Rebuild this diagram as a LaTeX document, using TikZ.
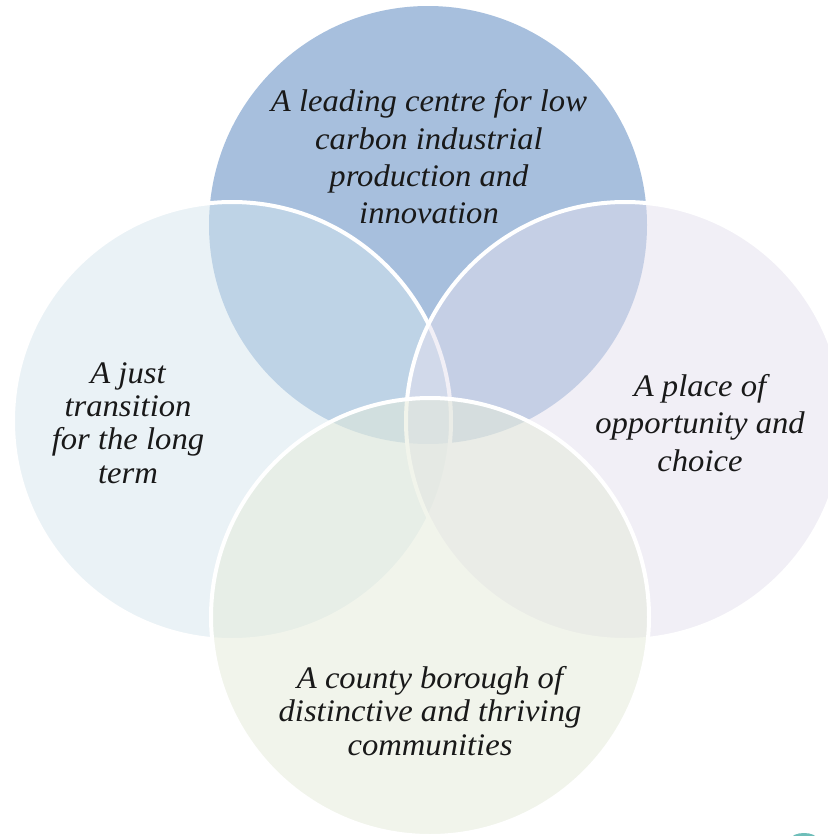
\documentclass[tikz,border=0pt]{standalone}
\usepackage{fontspec}
\setmainfont[FakeStretch=1.04]{Liberation Serif}
\begin{document}
\begin{tikzpicture}[x=1bp,y=-1bp,
  ring/.style={draw=white,line width=4bp},
  bigtxt/.style={font=\fontsize{31.5}{37.5}\selectfont\itshape,align=center,text=black!90},
  smalltxt/.style={font=\fontsize{31.5}{33.5}\selectfont\itshape,align=center,text=black!90}]
\definecolor{ctop}{RGB}{167,191,221}
\definecolor{cleft}{RGB}{214,231,239}
\definecolor{cright}{RGB}{228,224,238}
\definecolor{cbot}{RGB}{229,235,217}
\definecolor{cteal}{RGB}{110,190,185}
\useasboundingbox (0,0) rectangle (828,836);
\clip (0,0) rectangle (828,836);
\fill[white] (0,0) rectangle (828,836);
\coordinate (ctc) at (428,225);
\coordinate (clc) at (232,421);
\coordinate (crc) at (625,421);
\coordinate (cbc) at (430,617);
\fill[ctop] (ctc) circle[radius=219];
\path[ring,fill=cleft,fill opacity=0.5] (clc) circle[radius=219];
\path[ring,fill=cright,fill opacity=0.5] (crc) circle[radius=219];
\path[ring,fill=cbot,fill opacity=0.5] (cbc) circle[radius=219];
\fill[cteal] (804,839) ellipse[x radius=13, y radius=6];
\node[bigtxt] (ttop) at (429,157) {A leading centre for low\\carbon industrial\\production and\\innovation};
\node[smalltxt] (tleft) at (128,423) {A just\\transition\\for the long\\term};
\node[bigtxt] (tright) at (700,423) {A place of\\opportunity and\\choice};
\node[smalltxt] (tbot) at (430,711) {A county borough of\\distinctive and thriving\\communities};
\end{tikzpicture}
\end{document}
